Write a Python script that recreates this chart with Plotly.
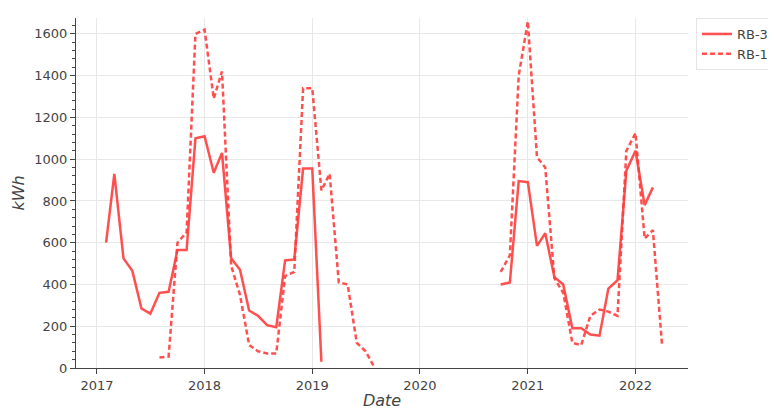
import plotly.graph_objects as go
import pandas as pd

rb3_a_dates = pd.date_range("2017-02-01", periods=25, freq="MS")
rb3_a = [600, 930, 525, 465, 285, 260, 360, 365, 565, 565, 1100, 1110, 935, 1030,
         525, 470, 275, 250, 205, 195, 515, 520, 955, 955, 30]
rb3_b_dates = pd.date_range("2020-10-01", periods=18, freq="MS")
rb3_b = [400, 410, 895, 890, 585, 645, 435, 400, 190, 190, 160, 155, 380, 420, 945, 1040, 780, 865]

rb1_a_dates = pd.date_range("2017-08-01", periods=25, freq="MS")
rb1_a = [50, 55, 600, 650, 1600, 1620, 1290, 1420, 490, 350, 110, 80, 70, 70, 440, 460,
         1340, 1340, 850, 930, 410, 400, 120, 80, 0]
rb1_b_dates = pd.date_range("2020-10-01", periods=19, freq="MS")
rb1_b = [460, 540, 1400, 1660, 1010, 960, 430, 360, 120, 110, 250, 280, 270, 250, 1040, 1125, 620, 660, 110]

color = "rgba(255,60,60,0.9)"

fig = go.Figure()
fig.add_scatter(x=list(rb3_a_dates) + [None] + list(rb3_b_dates), y=rb3_a + [None] + rb3_b,
                mode="lines", name="RB-3", line=dict(color=color, width=2.5))
fig.add_scatter(x=list(rb1_a_dates) + [None] + list(rb1_b_dates), y=rb1_a + [None] + rb1_b,
                mode="lines", name="RB-1", line=dict(color=color, width=2.5, dash="5px,3px"))

fig.update_layout(
    width=776, height=409,
    margin=dict(l=63, r=88, t=10, b=48),
    plot_bgcolor="white", paper_bgcolor="white",
    font=dict(family="DejaVu Sans", size=13, color="#444"),
    legend=dict(x=1.013, y=1, xanchor="left", yanchor="top", bordercolor="#e5e5e5",
                borderwidth=1, font=dict(size=13)),
)
fig.update_xaxes(range=["2016-10-22", "2022-06-28"], showgrid=True, gridcolor="#e8e8e8",
                 showline=True, linecolor="#444", ticks="outside", dtick="M12", tickformat="%Y",
                 title=dict(text="<i>Date</i>", standoff=3), zeroline=False)
fig.update_yaxes(range=[0, 1676], showgrid=True, gridcolor="#e8e8e8", dtick=200,
                 showline=True, linecolor="#444", ticks="outside",
                 minor=dict(ticks="outside", dtick=40, ticklen=3),
                 title=dict(text="<i>kWh</i>", standoff=5), zeroline=False)

fig.write_html("out.html")
